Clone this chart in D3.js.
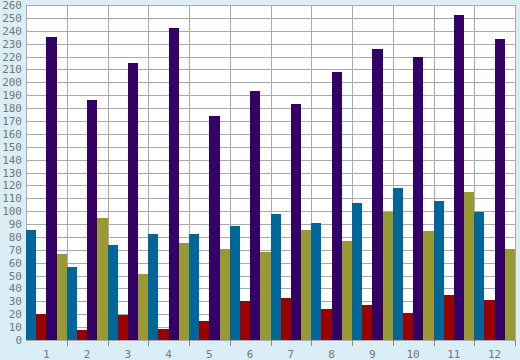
<!DOCTYPE html>
<html>
<head>
<meta charset="utf-8">
<script src="https://cdn.jsdelivr.net/npm/d3@7"></script>
<style>
  html, body { margin: 0; padding: 0; background: #d9eef6; }
  svg { display: block; }
</style>
</head>
<body>
<svg id="chart" width="520" height="360"></svg>
<script>
const categories = ["1","2","3","4","5","6","7","8","9","10","11","12"];
const seriesNames = ["A","B","C","D"];
const seriesA = [85, 57, 74, 82, 82, 88.5, 98, 91, 106, 118, 108, 99.5];
const seriesB = [20, 8, 19.5, 8.5, 15, 30, 32.5, 24, 27, 21, 35, 31];
const seriesC = [235, 186, 215, 242, 174, 193, 183, 208, 226, 220, 252, 233.5];
const seriesD = [66.5, 94.5, 51, 75, 70.5, 68.5, 85.5, 77, 99.5, 84.5, 115, 70.5];
const colors = ["#006699", "#990000", "#330066", "#999933"];
const yTicks = d3.range(0, 261, 10);

const allSeries = [seriesA, seriesB, seriesC, seriesD];
const svg = d3.select("#chart");
const mLeft = 26, mRight = 515, mTop = 5, mBottom = 340;

svg.append("rect").attr("x", mLeft).attr("y", mTop)
  .attr("width", mRight - mLeft).attr("height", mBottom - mTop).attr("fill", "#ffffff");

const x = d3.scaleBand().domain(categories).range([mLeft, mRight]).padding(0);
const xi = d3.scaleBand().domain(seriesNames).range([0, x.bandwidth()]).padding(0);
const y = d3.scaleLinear().domain([0, 260]).range([mBottom, mTop]);

// horizontal grid
svg.append("g").selectAll("line").data(yTicks).join("line")
  .attr("x1", mLeft).attr("x2", mRight)
  .attr("y1", d => Math.round(y(d)) + 0.5).attr("y2", d => Math.round(y(d)) + 0.5)
  .attr("stroke", "#aaaaaa").attr("stroke-width", 1);

// vertical grid at category boundaries
const bounds = categories.map(c => x(c)).concat([mRight]);
svg.append("g").selectAll("line").data(bounds).join("line")
  .attr("x1", d => Math.round(d) + 0.5).attr("x2", d => Math.round(d) + 0.5)
  .attr("y1", mTop).attr("y2", mBottom)
  .attr("stroke", "#aaaaaa").attr("stroke-width", 1);

// bars
const groups = svg.append("g").selectAll("g").data(categories).join("g")
  .attr("transform", c => `translate(${x(c)},0)`);
groups.selectAll("rect")
  .data((c, i) => allSeries.map((s, k) => ({ key: seriesNames[k], v: s[i], k })))
  .join("rect")
  .attr("x", d => xi(d.key))
  .attr("width", xi.bandwidth())
  .attr("y", d => y(d.v))
  .attr("height", d => y(0) - y(d.v))
  .attr("fill", d => colors[d.k])
  .attr("shape-rendering", "crispEdges");

// y axis labels
const yAxis = d3.axisLeft(y).tickValues(yTicks).tickSize(0).tickPadding(4);
const yg = svg.append("g").attr("transform", `translate(${mLeft},0)`).call(yAxis);
yg.select(".domain").remove();
yg.selectAll("text").attr("fill", "#777777")
  .style("font-family", "'DejaVu Sans Mono', monospace").style("font-size", "11px");

// x axis
const xAxis = d3.axisBottom(x).tickSize(0).tickPadding(10);
const xg = svg.append("g").attr("transform", `translate(0,${mBottom})`).call(xAxis);
xg.select(".domain").remove();
xg.selectAll("text").attr("fill", "#777777")
  .style("font-family", "'DejaVu Sans Mono', monospace").style("font-size", "11px");
svg.append("g").selectAll("line").data(bounds.slice(1)).join("line")
  .attr("x1", d => Math.round(d) + 0.5).attr("x2", d => Math.round(d) + 0.5)
  .attr("y1", mBottom).attr("y2", mBottom + 6)
  .attr("stroke", "#888888").attr("stroke-width", 1);
</script>
</body>
</html>
